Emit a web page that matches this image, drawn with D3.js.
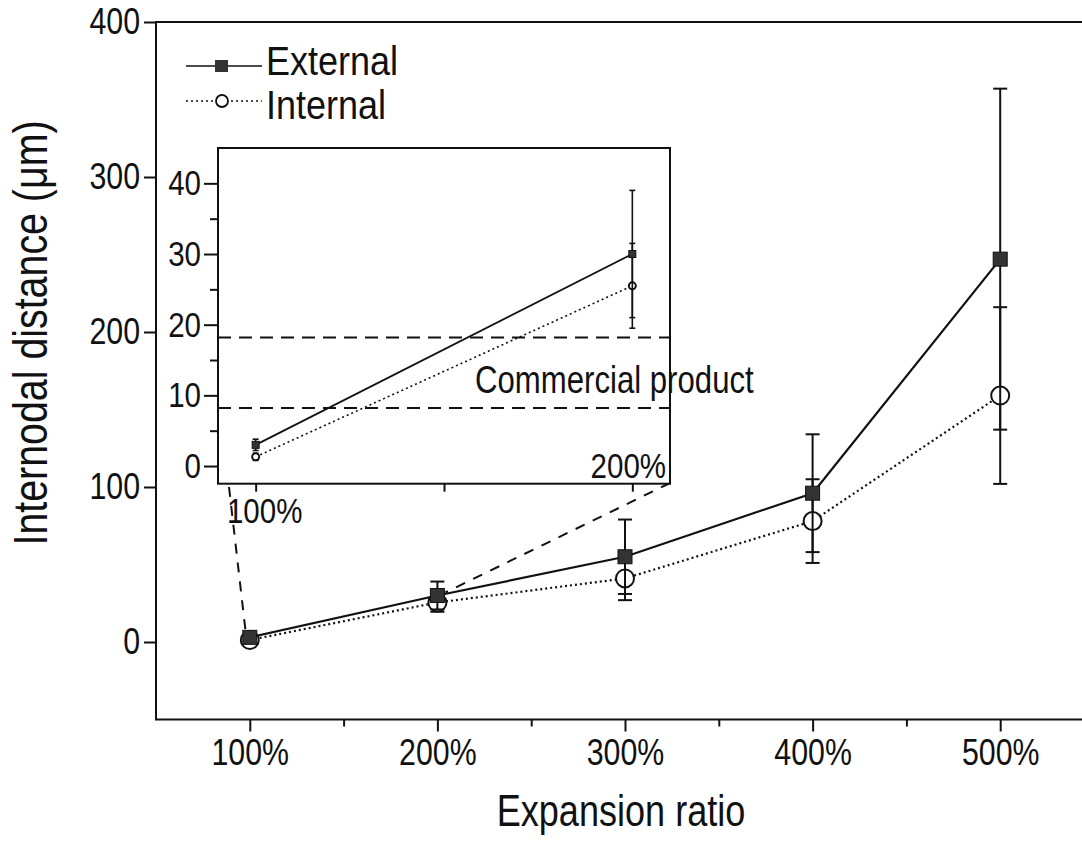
<!DOCTYPE html>
<html>
<head>
<meta charset="utf-8">
<script src="https://cdn.jsdelivr.net/npm/d3@7"></script>
<style>
  html, body { margin: 0; padding: 0; background: #fff; }
  svg { display: block; }
  text { font-family: "Liberation Sans", Arial, sans-serif; fill: #111; }
</style>
</head>
<body>
<svg id="chart" width="1082" height="843"></svg>
<script>
// ---- data ----
const categories = ["100%", "200%", "300%", "400%", "500%"];
const ratioIndex = [1, 2, 3, 4, 5];
const externalMean = [3, 30, 55, 96, 247];
const externalErr = [0.8, 9, 24, 38, 110];
const internalMean = [1.3, 25.5, 41, 78, 159];
const internalErr = [0.5, 6, 14, 27, 57];
const yTicks = [0, 100, 200, 300, 400];
const insetYTicks = [0, 10, 20, 30, 40];
const insetYMinor = [5, 15, 25, 35];
const commercialRange = [8.2, 18.2];
const seriesNames = ["External", "Internal"];

const svg = d3.select("#chart");
const ink = "#111";
const K = 0.82; // horizontal condensing of the lettering

function squeeze(sel, k) {
  sel.each(function () {
    const t = d3.select(this);
    const x0 = +t.attr("x") || 0;
    const tr = t.attr("transform") || "";
    t.attr("x", x0 / k).attr("transform", (tr ? tr + " " : "") + `scale(${k},1)`);
  });
}

// ---- main scales ----
const x = d3.scaleLinear().domain([0.5, 5.5]).range([156, 1094]);
const y = d3.scaleLinear().domain([-50, 400]).range([719.5, 22]);

// frame
svg.append("rect").attr("x", x(0.5)).attr("y", y(400)).attr("width", x(5.5) - x(0.5)).attr("height", y(-50) - y(400))
  .attr("fill", "none").attr("stroke", ink).attr("stroke-width", 2);

// x axis
const xAxisG = svg.append("g").attr("transform", `translate(0,${y(-50)})`)
  .call(d3.axisBottom(x).tickValues(ratioIndex).tickSize(12).tickSizeOuter(0).tickPadding(7).tickFormat(d => categories[d - 1]));
const xMinor = svg.append("g").attr("transform", `translate(0,${y(-50)})`)
  .call(d3.axisBottom(x).tickValues([1.5, 2.5, 3.5, 4.5]).tickSize(7).tickSizeOuter(0).tickFormat(""));
// y axis
const yAxisG = svg.append("g").attr("transform", `translate(${x(0.5)},0)`)
  .call(d3.axisLeft(y).tickValues(yTicks).tickSize(12).tickSizeOuter(0).tickPadding(4));
[xAxisG, xMinor, yAxisG].forEach(g => {
  g.select(".domain").remove();
  g.selectAll(".tick line").attr("stroke", ink).attr("stroke-width", 2);
  g.selectAll(".tick text").attr("font-size", 37).attr("fill", ink)
    .style("font-family", '"Liberation Sans", Arial, sans-serif');
});
xAxisG.selectAll(".tick text").attr("dy", "0.72em");
squeeze(xAxisG.selectAll(".tick text"), K);
squeeze(yAxisG.selectAll(".tick text"), K);

// axis titles
svg.append("text").attr("x", 621).attr("y", 826).attr("text-anchor", "middle").attr("font-size", 44).text("Expansion ratio")
  .call(squeeze, K);
svg.append("text").attr("transform", "translate(47,333) rotate(-90)").attr("text-anchor", "middle").attr("font-size", 48)
  .text("Internodal distance (\u03bcm)").call(squeeze, K);

// ---- drawing helpers ----
function drawSeries(g, xs, ys, means, errs, opts) {
  const pts = ratioIndex.map((r, i) => ({ r, m: means[i], e: errs[i] })).filter(opts.filter || (() => true));
  const eb = g.append("g");
  pts.forEach(p => {
    eb.append("line").attr("x1", xs(p.r)).attr("x2", xs(p.r)).attr("y1", ys(p.m - p.e)).attr("y2", ys(p.m + p.e))
      .attr("stroke", ink).attr("stroke-width", opts.ebw);
    [p.m - p.e, p.m + p.e].forEach(v => {
      eb.append("line").attr("x1", xs(p.r) - opts.cap).attr("x2", xs(p.r) + opts.cap).attr("y1", ys(v)).attr("y2", ys(v))
        .attr("stroke", ink).attr("stroke-width", opts.ebw);
    });
  });
  g.append("path").datum(pts)
    .attr("d", d3.line().x(p => xs(p.r)).y(p => ys(p.m)))
    .attr("fill", "none").attr("stroke", ink).attr("stroke-width", opts.lw)
    .attr("stroke-dasharray", opts.dash || null);
  pts.forEach(p => {
    if (opts.marker === "square") {
      g.append("rect").attr("x", xs(p.r) - opts.ms).attr("y", ys(p.m) - opts.ms).attr("width", opts.ms * 2).attr("height", opts.ms * 2)
        .attr("fill", "#333").attr("stroke", ink).attr("stroke-width", 1);
    } else {
      g.append("circle").attr("cx", xs(p.r)).attr("cy", ys(p.m)).attr("r", opts.ms)
        .attr("fill", "#fff").attr("stroke", ink).attr("stroke-width", 2);
    }
  });
}

const mainG = svg.append("g");
drawSeries(mainG, x, y, internalMean, internalErr, { marker: "circle", ms: 9, cap: 7, ebw: 2, lw: 2.2, dash: "2,3" });
drawSeries(mainG, x, y, externalMean, externalErr, { marker: "square", ms: 7, cap: 7, ebw: 2, lw: 2.2 });

// ---- legend ----
const leg = svg.append("g");
[[0, 66, 75, "square"], [1, 101, 119, "circle"]].forEach(([i, ly, ty, mk]) => {
  leg.append("line").attr("x1", 186).attr("x2", 262).attr("y1", ly).attr("y2", ly).attr("stroke", ink)
    .attr("stroke-width", 1.6).attr("stroke-dasharray", mk === "circle" ? "2,3" : null);
  if (mk === "square") leg.append("rect").attr("x", 215).attr("y", ly - 6).attr("width", 13).attr("height", 12).attr("fill", "#333");
  else leg.append("circle").attr("cx", 222).attr("cy", ly).attr("r", 6).attr("fill", "#fff").attr("stroke", ink).attr("stroke-width", 1.8);
  leg.append("text").attr("x", 266).attr("y", ty).attr("font-size", 40).text(seriesNames[i]).call(squeeze, 0.9);
});

// ---- inset ----
const xi = d3.scaleLinear().domain([0.9, 2.1]).range([218, 670]);
const yi = d3.scaleLinear().domain([-2.5, 45]).range([483.7, 148]);

// connectors
svg.append("line").attr("x1", 229).attr("y1", 487).attr("x2", x(1) - 4).attr("y2", y(externalMean[0]) - 4)
  .attr("stroke", ink).attr("stroke-width", 2).attr("stroke-dasharray", "10,9");
svg.append("line").attr("x1", 670).attr("y1", 483).attr("x2", x(2) + 8).attr("y2", y(externalMean[1]) - 3)
  .attr("stroke", ink).attr("stroke-width", 2).attr("stroke-dasharray", "10,9");

const inset = svg.append("g");
inset.append("rect").attr("x", xi(0.9)).attr("y", yi(45)).attr("width", xi(2.1) - xi(0.9)).attr("height", yi(-2.5) - yi(45))
  .attr("fill", "#fff").attr("stroke", ink).attr("stroke-width", 2);

const iy = inset.append("g").attr("transform", `translate(${xi(0.9)},0)`)
  .call(d3.axisLeft(yi).tickValues(insetYTicks).tickSize(14).tickSizeOuter(0).tickPadding(3));
const iyMinor = inset.append("g").attr("transform", `translate(${xi(0.9)},0)`)
  .call(d3.axisLeft(yi).tickValues(insetYMinor).tickSize(8).tickSizeOuter(0).tickFormat(""));
const ix = inset.append("g").attr("transform", `translate(0,${yi(-2.5)})`)
  .call(d3.axisBottom(xi).tickValues([1, 1.5, 2]).tickSize(8).tickSizeOuter(0).tickFormat(""));
[iy, iyMinor, ix].forEach(g => {
  g.select(".domain").remove();
  g.selectAll(".tick line").attr("stroke", ink).attr("stroke-width", 2);
  g.selectAll(".tick text").attr("font-size", 36).attr("fill", ink)
    .style("font-family", '"Liberation Sans", Arial, sans-serif');
});
squeeze(iy.selectAll(".tick text"), K);

// inset category labels
inset.append("text").attr("x", xi(1) + 9).attr("y", 523).attr("text-anchor", "middle").attr("font-size", 36).text(categories[0]).call(squeeze, K);
inset.append("text").attr("x", xi(2) - 4).attr("y", 478).attr("text-anchor", "middle").attr("font-size", 36).text(categories[1]).call(squeeze, K);

// commercial product band
commercialRange.forEach(v => {
  inset.append("line").attr("x1", xi(0.9)).attr("x2", xi(2.1)).attr("y1", yi(v)).attr("y2", yi(v))
    .attr("stroke", ink).attr("stroke-width", 2).attr("stroke-dasharray", "13,8");
});
inset.append("text").attr("x", 475).attr("y", 393).attr("font-size", 38).text("Commercial product").call(squeeze, K);

const insetData = inset.append("g");
const onlyFirstTwo = p => p.r <= 2;
drawSeries(insetData, xi, yi, internalMean, internalErr, { marker: "circle", ms: 3.5, cap: 3, ebw: 1.6, lw: 1.6, dash: "2,3", filter: onlyFirstTwo });
drawSeries(insetData, xi, yi, externalMean, externalErr, { marker: "square", ms: 3.5, cap: 3, ebw: 1.6, lw: 1.8, filter: onlyFirstTwo });
</script>
</body>
</html>
